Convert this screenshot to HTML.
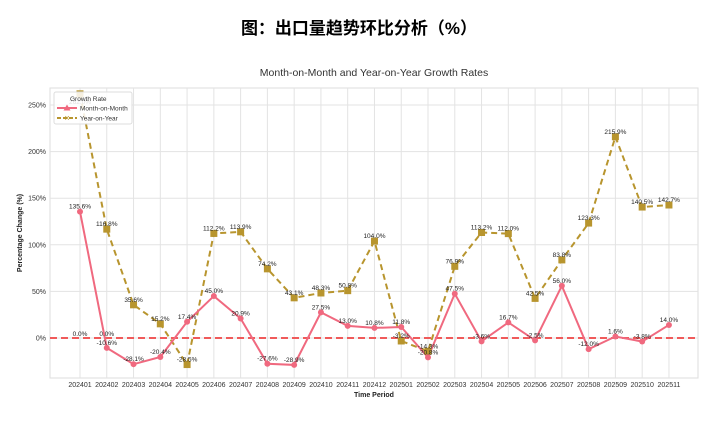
<!DOCTYPE html>
<html><head><meta charset="utf-8"><style>
body{margin:0;background:#fff;width:718px;height:422px;overflow:hidden}
svg{display:block;font-family:"Liberation Sans","Noto Sans CJK SC",sans-serif}
</style></head><body>
<svg id="s" width="718" height="422" xmlns="http://www.w3.org/2000/svg">
<text x="359" y="34" text-anchor="middle" font-size="17" font-weight="bold" font-family="Liberation Sans,Noto Sans CJK SC,sans-serif" fill="#000">图：出口量趋势环比分析（%）</text>
<text x="374" y="76" text-anchor="middle" font-size="10.5" fill="#333">Month-on-Month and Year-on-Year Growth Rates</text>
<rect x="50" y="88" width="648" height="290" fill="#fff" stroke="#ddd"/>
<g id="grid" stroke="#e3e3e3" stroke-width="1"></g>
<g id="ylab" font-size="7" fill="#333" text-anchor="end"></g>
<g id="xlab" font-size="7" fill="#333" text-anchor="middle"></g>
<text x="374" y="397" text-anchor="middle" font-size="7" font-weight="bold" fill="#222">Time Period</text>
<text transform="translate(22,233) rotate(-90)" text-anchor="middle" font-size="7" font-weight="bold" fill="#222">Percentage Change (%)</text>
<line x1="50" x2="698" y1="338" y2="338" stroke="#f05a5a" stroke-width="2" stroke-dasharray="7,4"/>
<defs><clipPath id="c"><rect x="50" y="88" width="648" height="290"/></clipPath></defs>
<g clip-path="url(#c)">
<polyline id="yoy" fill="none" stroke="#b8952e" stroke-width="2" stroke-dasharray="6,4"/>
<polyline id="mom" fill="none" stroke="#f0697f" stroke-width="2"/>
<g id="mk"></g>
</g>
<g id="lab" font-size="6.5" fill="#222" text-anchor="middle"></g>
<rect x="54" y="92" width="78" height="32" fill="#fff" fill-opacity="0.85" stroke="#ddd" rx="2"/>
<text x="70" y="101" font-size="6.5" fill="#333">Growth Rate</text>
<line x1="57" x2="77" y1="108" y2="108" stroke="#f0697f" stroke-width="2"/>
<polygon points="67,104.5 70.5,110.5 63.5,110.5" fill="#f0697f"/>
<text x="80" y="110.5" font-size="6.5" fill="#333">Month-on-Month</text>
<line x1="57" x2="77" y1="118" y2="118" stroke="#b8952e" stroke-width="2" stroke-dasharray="4,2"/>
<text x="67" y="120.5" font-size="7" fill="#b8952e" text-anchor="middle">✕</text>
<text x="80" y="120.5" font-size="6.5" fill="#333">Year-on-Year</text>
</svg>
<script>
var ns="http://www.w3.org/2000/svg";
function el(p,t,a,tx){var e=document.createElementNS(ns,t);for(var k in a)e.setAttribute(k,a[k]);if(tx!=null)e.textContent=tx;document.getElementById(p).appendChild(e);return e;}
var X=function(i){return 80+i*26.77},Y=function(v){return 338-v*0.932};
var xl=["202401","202402","202403","202404","202405","202406","202407","202408","202409","202410","202411","202412","202501","202502","202503","202504","202505","202506","202507","202508","202509","202510","202511"];
var mom=[135.6,-10.6,-28.1,-20.4,17.4,45.0,20.9,-27.6,-28.9,27.5,13.0,10.8,11.8,-20.8,47.5,-3.6,16.7,-2.5,56.0,-12.0,1.6,-3.8,14.0];
var yoy=[262,116.8,35.6,15.2,-28.5,112.2,113.9,74.2,43.1,48.3,50.8,104.0,-3.2,-14.3,76.9,113.2,112.0,42.5,83.8,123.3,215.9,140.5,142.7];
for(var v=-0;v<=250;v+=50){}
[0,50,100,150,200,250].forEach(function(v){el("grid","line",{x1:50,x2:698,y1:Y(v),y2:Y(v)});el("ylab","text",{x:46,y:Y(v)+2.5},v+"%");});
xl.forEach(function(t,i){el("grid","line",{x1:X(i),x2:X(i),y1:88,y2:378});el("xlab","text",{x:X(i),y:387},t);});
document.getElementById("mom").setAttribute("points",mom.map(function(v,i){return X(i)+","+Y(v)}).join(" "));
document.getElementById("yoy").setAttribute("points",yoy.map(function(v,i){return X(i)+","+Y(v)}).join(" "));
yoy.forEach(function(v,i){el("mk","rect",{x:X(i)-3.5,y:Y(v)-3.5,width:7,height:7,fill:"#b8952e"});});
mom.forEach(function(v,i){el("mk","circle",{cx:X(i),cy:Y(v),r:3,fill:"#f0697f"});});
yoy.forEach(function(v,i){if(i==0){el("lab","text",{x:X(0),y:104},"262.0%");return;}el("lab","text",{x:X(i),y:Y(v)-3},v.toFixed(1)+"%");});
mom.forEach(function(v,i){el("lab","text",{x:X(i),y:Y(v)-3},v.toFixed(1)+"%");});
el("lab","text",{x:X(0),y:336},"0.0%");el("lab","text",{x:X(1),y:336},"0.0%");
</script>
</body></html>
